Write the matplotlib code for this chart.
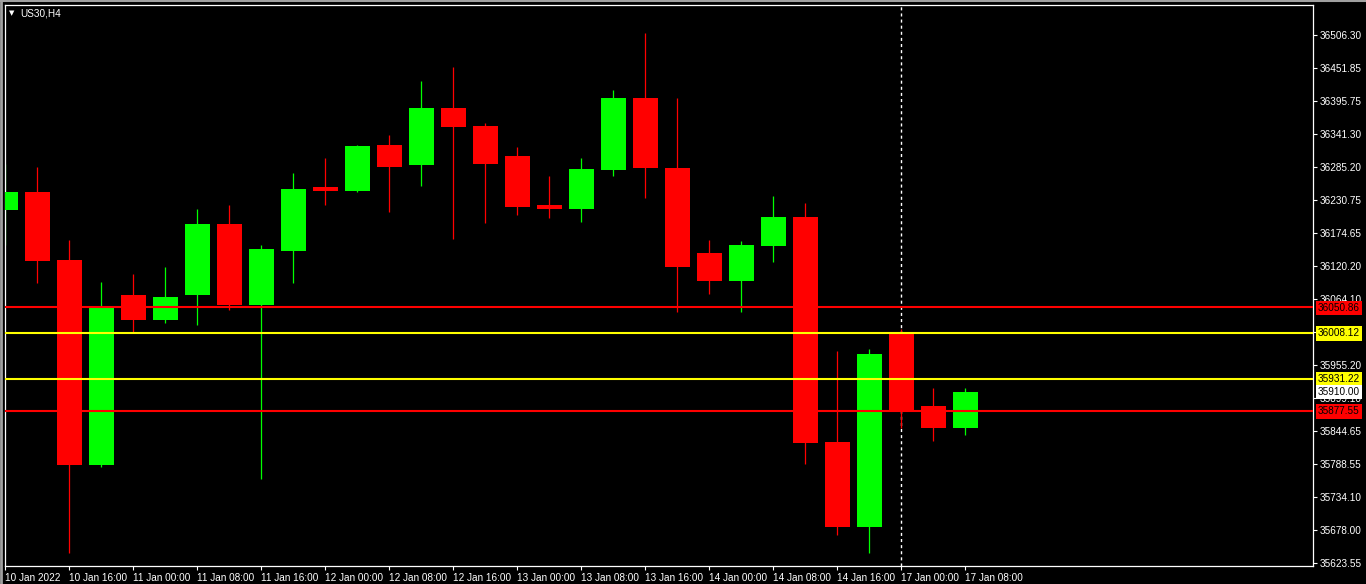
#!/usr/bin/env python3

import matplotlib
matplotlib.use("Agg")
import matplotlib.pyplot as plt
import numpy as np

# H4 candles, 10 Jan 2022 08:00 .. 17 Jan 2022 08:00
opens = [36213.7, 36243.8, 36130.1, 35787.4, 36071.6, 36029.8, 36071.6, 36190.3,
         36054.9, 36145.2, 36252.2, 36245.5, 36322.4, 36289.0, 36384.3, 36354.2,
         36304.0, 36222.1, 36215.4, 36280.6, 36401.0, 36283.9, 36141.8, 36095.0,
         36153.5, 36202.0, 35825.8, 35683.7, 36008.1, 35886.0, 35849.2]
highs = [36290.6, 36285.6, 36163.6, 36093.3, 36106.7, 36118.4, 36215.4, 36222.1,
         36155.2, 36275.6, 36300.7, 36322.4, 36339.1, 36429.4, 36452.8, 36359.2,
         36319.0, 36270.6, 36300.7, 36414.3, 36509.6, 36401.0, 36163.6, 36161.9,
         36237.1, 36225.4, 35978.0, 35981.3, 36014.8, 35916.1, 35916.1]
lows = [36155.2, 36091.7, 35640.3, 35784.0, 36009.7, 36024.8, 36021.4, 36046.5,
        35764.0, 36091.7, 36222.1, 36243.8, 36210.4, 36253.8, 36165.2, 36192.0,
        36205.4, 36200.3, 36193.7, 36270.6, 36233.8, 36043.2, 36073.3, 36043.2,
        36126.8, 35789.1, 35670.3, 35640.3, 35849.2, 35827.5, 35837.5]
closes = [36243.8, 36128.5, 35787.4, 36049.9, 36029.8, 36068.3, 36190.3, 36054.9,
          36148.5, 36248.8, 36245.5, 36320.7, 36285.6, 36384.3, 36352.5, 36290.6,
          36218.7, 36215.4, 36282.3, 36401.0, 36283.9, 36118.4, 36095.0, 36155.2,
          36202.0, 35824.2, 35683.7, 35973.0, 35879.3, 35849.2, 35910.00]

time_labels = ["10 Jan 2022", "10 Jan 16:00", "11 Jan 00:00", "11 Jan 08:00",
               "11 Jan 16:00", "12 Jan 00:00", "12 Jan 08:00", "12 Jan 16:00",
               "13 Jan 00:00", "13 Jan 08:00", "13 Jan 16:00", "14 Jan 00:00",
               "14 Jan 08:00", "14 Jan 16:00", "17 Jan 00:00", "17 Jan 08:00"]
time_label_idx = list(range(0, 31, 2))

price_ticks = [36506.30, 36451.85, 36395.75, 36341.30, 36285.20, 36230.75,
               36174.65, 36120.20, 36064.10, 36009.65, 35955.20, 35899.10,
               35844.65, 35788.55, 35734.10, 35678.00, 35623.55]

# horizontal levels: (price, colour)
levels = [(36050.86, '#ff0000'), (36008.12, '#ffff00'),
          (35931.22, '#ffff00'), (35877.55, '#ff0000')]
last_price = 35910.00
separator_idx = 28  # 17 Jan 00:00

GREEN = '#00ff00'
RED = '#ff0000'
FONT = 'Liberation Sans'
FS = 7.2

W, H = 1366, 584
fig = plt.figure(figsize=(W / 100, H / 100), dpi=100, facecolor='black')
ax = fig.add_axes([5 / W, 18 / H, (1313 - 5) / W, (566 - 5) / H], facecolor='black')

x = np.arange(len(opens))
o = np.array(opens)
c = np.array(closes)
colors = [GREEN if cc >= oo else RED for oo, cc in zip(o, c)]

ax.axvline(separator_idx, color='white', lw=1.0, linestyle=(0, (2.2, 2.2)), zorder=1)
ax.vlines(x, lows, highs, colors=colors, lw=0.9, zorder=2)
ax.bar(x, np.maximum(np.abs(c - o), 0.8), bottom=np.minimum(o, c), width=0.77,
       color=colors, linewidth=0, zorder=3)

for price, col in levels:
    ax.axhline(price, color=col, lw=1.5, zorder=4)

ax.set_xlim(-0.0104, 40.86)
ax.set_ylim(35618.5, 36556.5)

ax.yaxis.tick_right()
ax.set_yticks(price_ticks)
ax.set_yticklabels([f"{p:.2f}" for p in price_ticks])
ax.set_xticks(time_label_idx)
ax.set_xticklabels(time_labels)
ax.tick_params(colors='white', length=3, width=0.8, direction='out', pad=2,
               labelsize=FS)
for lab in ax.get_xticklabels() + ax.get_yticklabels():
    lab.set_fontfamily(FONT)
    lab.set_color('white')
for lab in ax.get_xticklabels():
    lab.set_ha('left')
for sp in ax.spines.values():
    sp.set_color('white')
    sp.set_linewidth(0.9)

# price tags on the scale
tags = levels[:2] + [levels[2], (last_price, 'white'), levels[3]]
for price, col in tags:
    ax.annotate(f"{price:.2f}", xy=(1.0, price), xycoords=('axes fraction', 'data'),
                xytext=(3.6, -0.3), textcoords='offset points', va='center', ha='left',
                fontsize=FS, family=FONT, color='black', zorder=10,
                bbox=dict(boxstyle='square,pad=0.22', fc=col, ec='none'),
                annotation_clip=False)

fig.text(20 / W, 1 - 14 / H, "US30,H4", color='white', fontsize=FS,
         family=FONT, va='center', ha='left')
fig.text(12 / W, 1 - 13 / H, "\u25bc", color='white', fontsize=5,
         family='DejaVu Sans', va='center', ha='center')

# window frame
fig.add_artist(plt.Line2D([1 / W, 1 / W], [0, 1], color='#a0a0a0', lw=2))
fig.add_artist(plt.Line2D([0, 1], [1 - 1 / H, 1 - 1 / H], color='#a0a0a0', lw=1.5))

fig.savefig('out.png', dpi=100, facecolor='black')
